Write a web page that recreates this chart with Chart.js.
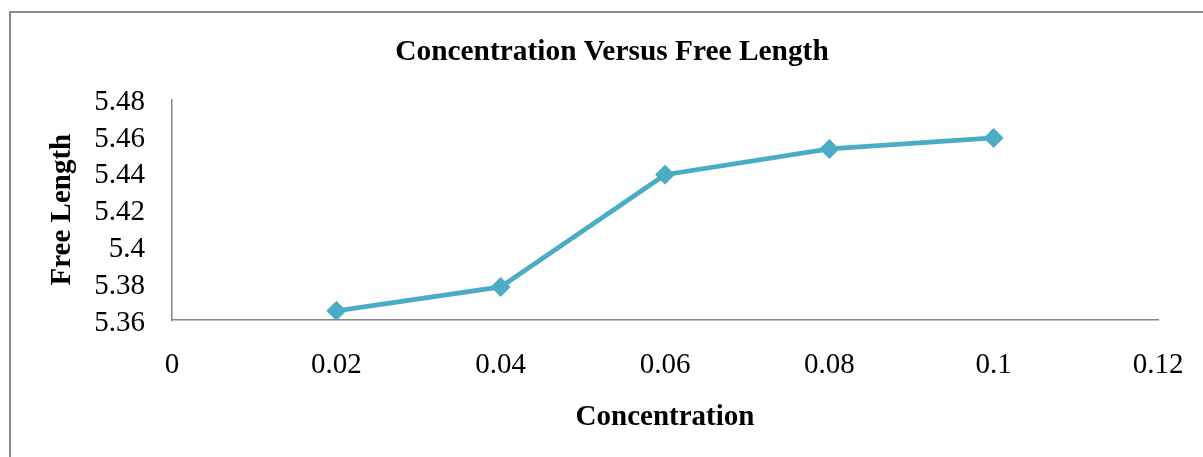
<!DOCTYPE html>
<html>
<head>
<meta charset="utf-8">
<script src="https://cdn.jsdelivr.net/npm/chart.js@4/dist/chart.umd.min.js"></script>
<style>
  html, body { margin: 0; padding: 0; background: #ffffff; }
  #wrap { position: relative; width: 1203px; height: 457px; overflow: hidden; background: #ffffff; }
  #frame { position: absolute; left: 9px; top: 11px; width: 1400px; height: 700px; border: 2px solid #8a8a8a; box-sizing: border-box; }
  #c { position: absolute; left: 0; top: 0; }
</style>
</head>
<body>
<div id="wrap">
  <div id="frame"></div>
  <canvas id="c" width="1203" height="457"></canvas>
</div>
<script>
const chartTitle = "Concentration Versus Free Length";
const xTitle = "Concentration";
const yTitle = "Free Length";
const concentration = [0.02, 0.04, 0.06, 0.08, 0.1];
const freeLength = [5.365, 5.378, 5.439, 5.453, 5.459];
const xTicks = [0, 0.02, 0.04, 0.06, 0.08, 0.1, 0.12];
const yTicks = [5.36, 5.38, 5.4, 5.42, 5.44, 5.46, 5.48];

const fmt = v => String(parseFloat(Number(v).toFixed(4)));
const serif = "'Liberation Serif', 'Times New Roman', serif";
const axisGray = '#868686';

new Chart(document.getElementById('c'), {
  type: 'line',
  data: {
    datasets: [{
      data: concentration.map((x, i) => ({ x: x, y: freeLength[i] })),
      borderColor: '#4BACC6',
      backgroundColor: '#4BACC6',
      borderWidth: 4.8,
      pointStyle: 'rectRot',
      pointRadius: 9.5,
      pointBorderWidth: 1,
      pointBorderColor: '#4BACC6',
      pointBackgroundColor: '#4BACC6',
      tension: 0,
      fill: false
    }]
  },
  options: {
    responsive: false,
    animation: false,
    devicePixelRatio: 1,
    layout: { padding: { left: 66, right: 45, top: 0, bottom: 0 } },
    plugins: {
      legend: { display: false },
      tooltip: { enabled: false },
      title: {
        display: true,
        text: chartTitle,
        color: '#000',
        font: { family: serif, size: 29.4, weight: 'bold', lineHeight: 1.2 },
        padding: { top: 34.6, bottom: 29.4 }
      }
    },
    scales: {
      x: {
        type: 'linear',
        min: 0,
        max: 0.12,
        afterBuildTicks: s => { s.ticks = xTicks.map(v => ({ value: v })); },
        afterFit: s => { s.height = 137; s.paddingLeft = 0; s.paddingRight = 0; },
        grid: { display: false, drawTicks: false },
        border: { display: true, color: axisGray, width: 1.5 },
        ticks: {
          color: '#000',
          padding: 27.5,
          maxRotation: 0,
          autoSkip: false,
          font: { family: serif, size: 29 },
          callback: v => fmt(v)
        },
        title: {
          display: true,
          text: xTitle,
          color: '#000',
          font: { family: serif, size: 29, weight: 'bold', lineHeight: 1.2 },
          padding: { top: 0, bottom: 21.6 }
        }
      },
      y: {
        type: 'linear',
        min: 5.36,
        max: 5.48,
        afterBuildTicks: s => { s.ticks = yTicks.map(v => ({ value: v })); },
        afterFit: s => { s.width = 106; },
        grid: { display: false, drawTicks: false },
        border: { display: true, color: axisGray, width: 1.5 },
        ticks: {
          color: '#000',
          padding: 27,
          labelOffset: 3,
          autoSkip: false,
          font: { family: serif, size: 29 },
          callback: v => fmt(v)
        },
        title: {
          display: true,
          text: yTitle,
          color: '#000',
          font: { family: serif, size: 29, weight: 'bold', lineHeight: 1.2 },
          padding: { top: -20.4, bottom: 0 }
        }
      }
    }
  }
});
</script>
</body>
</html>
